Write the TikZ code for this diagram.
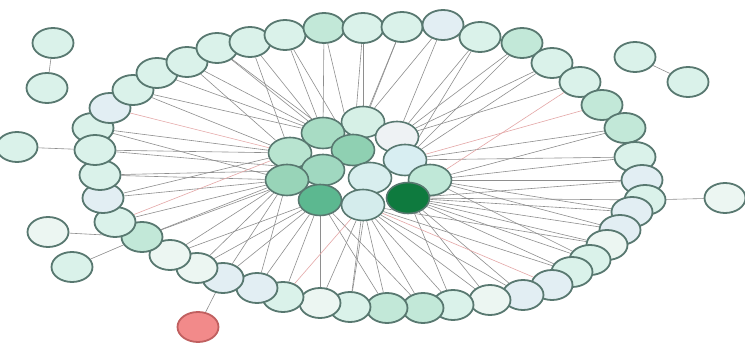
\documentclass[tikz,border=0pt]{standalone}
\usetikzlibrary{shapes.geometric}
\pgfdeclarelayer{background}
\pgfsetlayers{background,main}
\definecolor{rA}{HTML}{DAF2EA}
\definecolor{rB}{HTML}{C2E8D8}
\definecolor{rC}{HTML}{E2EEF3}
\definecolor{rD}{HTML}{ECF6F2}
\definecolor{bord}{HTML}{587870}
\definecolor{edgegray}{HTML}{8E8E8E}
\definecolor{edgepink}{HTML}{E4A6A6}
\tikzset{
  netnode/.style={ellipse, draw=bord, line width=1.8pt, minimum width=41pt, minimum height=30pt, inner sep=0pt},
  cnode/.style={ellipse, draw=bord, line width=1.6pt, minimum width=43pt, minimum height=31pt, inner sep=0pt},
  link/.style={draw=edgegray, line width=0.6pt},
  pinklink/.style={draw=edgepink, line width=0.6pt}
}
\begin{document}
\begin{tikzpicture}[x=1pt,y=-1pt]
\useasboundingbox (0,0) rectangle (745,347);
% ring nodes
\foreach \n/\x/\y/\c in {
 r1/93/128/rA, r2/110/108/rC, r3/133/90/rA, r4/157/73/rA, r5/187/62/rA,
 r6/217/48/rA, r7/250/42/rA, r8/285/35/rA, r9/324/28/rB, r10/363/28/rA,
 r11/402/27/rA, r12/443/25/rC, r13/480/37/rA, r14/522/43/rB, r15/552/63/rA,
 r16/580/82/rA, r17/602/105/rB, r18/625/128/rB, r19/635/157/rA, r20/642/180/rC,
 r21/645/200/rA, r22/632/212/rC, r23/620/230/rC, r24/607/245/rD, r25/590/260/rA,
 r26/572/272/rA, r27/552/285/rC, r28/523/295/rC, r29/490/300/rD, r30/453/305/rA,
 r31/423/308/rB, r32/387/308/rB, r33/350/307/rA, r34/320/303/rD, r35/283/297/rA,
 r36/257/288/rC, r37/223/278/rC, r38/197/268/rD, r39/170/255/rD, r40/142/237/rB,
 r41/115/222/rA, r42/103/198/rC, r43/100/175/rA, r44/95/150/rA}
 \node[netnode, fill=\c] (\n) at (\x,\y) {};
% centre cluster
\foreach \n/\x/\y/\c in {
 c1/363/122/D6F0E6, c2/323/133/A8DCC4, c3/397/137/EEF2F4, c4/353/150/8FD0B2,
 c5/290/153/B8E4D0, c6/405/160/D8EEF2, c7/323/170/A0D8C0, c8/287/180/98D4B8,
 c9/370/178/D8EEEE, c10/430/180/C0E8D8, c11/320/200/5CB890, c12/363/205/D4ECEC,
 c13/408/198/0E7A3E}
 {\definecolor{tmpc}{HTML}{\c}
  \node[cnode, fill=tmpc] (\n) at (\x,\y) {};}
% outer nodes
\node[netnode, fill=rA] (o1) at (53,43) {};
\node[netnode, fill=rA] (o2) at (47,88) {};
\node[netnode, fill=rA] (o3) at (17,147) {};
\node[netnode, fill=rD] (o4) at (48,232) {};
\node[netnode, fill=rA] (o5) at (72,267) {};
\node[netnode, fill=rA] (o6) at (635,57) {};
\node[netnode, fill=rA] (o7) at (688,82) {};
\node[netnode, fill=rD] (o8) at (725,198) {};
\node[netnode, draw={rgb,255:red,192;green,96;blue,96}, fill={rgb,255:red,242;green,138;blue,138}] (red) at (198,327) {};
\begin{pgfonlayer}{background}
\fill[white] (0,0) rectangle (745,347);
\foreach \a/\b in {
 r1/c5, r3/c5, r4/c2, r5/c5, r6/c2, r7/c2, r8/c4, r9/c2, r10/c1,
 r11/c4, r12/c1, r13/c3, r14/c3, r15/c6, r16/c3, r18/c10, r19/c6, r20/c10,
 r21/c13, r22/c10, r23/c13, r24/c13, r25/c10, r26/c13, r28/c13, r29/c12, r30/c13,
 r31/c11, r32/c12, r33/c9, r34/c11, r36/c11, r37/c8, r38/c11, r39/c8,
 r40/c7, r41/c8, r42/c5, r43/c8, r44/c7,
 r1/c8, r3/c2, r5/c2, r6/c4, r7/c5, r8/c2, r9/c4, r10/c4, r11/c1, r12/c3,
 r13/c6, r14/c6, r15/c3, r18/c6, r19/c10, r20/c13, r22/c13, r23/c10, r24/c12,
 r25/c13, r26/c12, r28/c12, r29/c13, r30/c12, r31/c12, r32/c11, r33/c12,
 r34/c12, r35/c11, r36/c8, r37/c11, r38/c8, r39/c11, r40/c8, r42/c8, r43/c7, r44/c5}
 \draw[link] (\a) -- (\b);
\foreach \a/\b in {r2/c5, r17/c6, r27/c12, r35/c12, r41/c5, r16/c10}
 \draw[pinklink] (\a) -- (\b);
\draw[link] (o1) -- (o2);
\draw[link] (o3) -- (r44);
\draw[link] (o4) -- (r40);
\draw[link] (o5) -- (r40);
\draw[link] (o6) -- (o7);
\draw[link] (o8) -- (r21);
\draw[link] (red) -- (r37);
\end{pgfonlayer}
\end{tikzpicture}
\end{document}
